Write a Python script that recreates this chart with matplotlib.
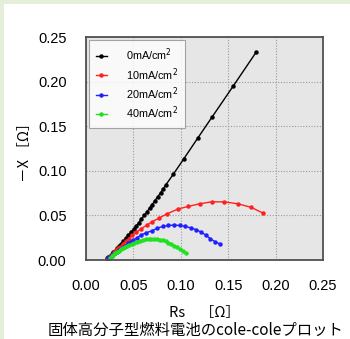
import matplotlib

matplotlib.use("Agg")
import matplotlib.pyplot as plt
from matplotlib.patches import Rectangle

# legend labels and colours
labels = ["0mA/cm$^2$", "10mA/cm$^2$", "20mA/cm$^2$", "40mA/cm$^2$"]
colors = ["#000000", "#ff2020", "#2020ff", "#20e020"]

# 0 mA/cm2
rs_0 = [0.022, 0.0235, 0.025, 0.027, 0.029, 0.031, 0.033, 0.035, 0.037, 0.0393,
        0.042, 0.0448, 0.0476, 0.0503, 0.0528, 0.0555, 0.0583, 0.0615, 0.0642,
        0.067, 0.0698, 0.0726, 0.0757, 0.0788, 0.0816, 0.0844, 0.0922, 0.1029,
        0.1181, 0.1328, 0.1553, 0.1795]
x_0 = [0.002, 0.003, 0.0045, 0.0065, 0.0085, 0.0105, 0.013, 0.0155, 0.018, 0.021,
       0.0245, 0.028, 0.0315, 0.0345, 0.038, 0.0415, 0.046, 0.050, 0.054,
       0.058, 0.062, 0.0665, 0.071, 0.0755, 0.080, 0.0845, 0.0963, 0.113,
       0.137, 0.160, 0.195, 0.233]

# 10 mA/cm2
rs_10 = [0.022, 0.024, 0.026, 0.028, 0.030, 0.032, 0.034, 0.036, 0.039, 0.042,
         0.045, 0.049, 0.053, 0.058, 0.064, 0.070, 0.077, 0.085, 0.0966, 0.1076,
         0.1198, 0.1326, 0.1458, 0.1604, 0.1743, 0.1865]
x_10 = [0.001, 0.003, 0.005, 0.007, 0.009, 0.011, 0.013, 0.015, 0.018, 0.021,
        0.024, 0.0275, 0.031, 0.035, 0.039, 0.043, 0.047, 0.0515, 0.057, 0.060,
        0.063, 0.0652, 0.0652, 0.063, 0.059, 0.0526]

# 20 mA/cm2
rs_20 = [0.023, 0.025, 0.027, 0.029, 0.031, 0.033, 0.035, 0.038, 0.041, 0.044,
         0.047, 0.050, 0.054, 0.058, 0.0635, 0.0694, 0.0753, 0.0809, 0.0868,
         0.0927, 0.099, 0.1049, 0.1104, 0.1163, 0.1215, 0.1268, 0.1313, 0.1361,
         0.1409]
x_20 = [0.002, 0.0035, 0.005, 0.0065, 0.008, 0.0095, 0.011, 0.0135, 0.016, 0.0185,
        0.0205, 0.0225, 0.025, 0.028, 0.0305, 0.0327, 0.0357, 0.0376, 0.0387,
        0.0391, 0.0387, 0.0376, 0.0361, 0.0339, 0.0313, 0.0275, 0.0238, 0.0205,
        0.0182]

# 40 mA/cm2
rs_40 = [0.025, 0.027, 0.029, 0.031, 0.033, 0.035, 0.037, 0.039, 0.041, 0.043,
         0.045, 0.048, 0.051, 0.054, 0.057, 0.060, 0.063, 0.066, 0.069, 0.072,
         0.075, 0.078, 0.081, 0.084, 0.087, 0.090, 0.093, 0.096, 0.099, 0.102,
         0.105]
x_40 = [0.002, 0.004, 0.006, 0.0075, 0.009, 0.0105, 0.012, 0.0133, 0.0145, 0.0156,
        0.0166, 0.018, 0.0193, 0.0205, 0.0215, 0.0224, 0.023, 0.0234, 0.0236,
        0.0236, 0.0233, 0.0228, 0.022, 0.021, 0.0196, 0.018, 0.016, 0.0143,
        0.0123, 0.0102, 0.008]

ticks = [0.00, 0.05, 0.10, 0.15, 0.20, 0.25]

series = [(rs_0, x_0), (rs_10, x_10), (rs_20, x_20), (rs_40, x_40)]

fig = plt.figure(figsize=(3.5, 3.39), dpi=100, facecolor="#e4eed8")
fig.patches.append(Rectangle((4 / 350, 0), 1, 1 - 4 / 339, transform=fig.transFigure,
                             facecolor="white", edgecolor="none", zorder=-10))
ax = fig.add_axes([86 / 350, 79 / 339, 237 / 350, 223 / 339])
ax.set_facecolor("#e6e6e6")

for (rs, x), label, color in zip(series, labels, colors):
    ax.plot(rs, x, color=color, linewidth=1.0, marker="o", markersize=2.2,
            label=label)

ax.set_xlim(0, 0.25)
ax.set_ylim(0, 0.25)
ax.set_xticks(ticks, [f"{t:.2f}" for t in ticks])
ax.set_yticks(ticks, [f"{t:.2f}" for t in ticks])
ax.grid(True, color="#9a9a9a", linestyle=(0, (1, 1.5)), linewidth=0.8)
ax.set_axisbelow(True)
ax.tick_params(length=0, pad=14, labelsize=10.5)
for lab in ax.get_xticklabels() + ax.get_yticklabels():
    lab.set_fontfamily("Liberation Sans")
for sp in ax.spines.values():
    sp.set_color("#505050")
    sp.set_linewidth(1.3)

jp = ["Noto Sans CJK JP", "DejaVu Sans"]
ax.set_xlabel("Rs\u3000［Ω］", family=jp, fontsize=10.5, labelpad=9)
ax.set_ylabel("－X ［Ω］", family=jp, fontsize=10.5, labelpad=4)

leg = ax.legend(loc="upper left", prop={"family": "Liberation Sans", "size": 7.8},
                frameon=True, fancybox=False, edgecolor="#909090",
                handlelength=1.0, handletextpad=1.8, borderaxespad=0.3,
                labelspacing=0.25, borderpad=0.6)
leg.get_frame().set_linewidth(0.8)

fig.text(48 / 350, 1 - 330 / 339, "固体高分子型燃料電池のcole-coleプロット",
         family=jp, fontsize=11.1, ha="left", va="center")

fig.savefig("out.png", dpi=100, facecolor=fig.get_facecolor())
